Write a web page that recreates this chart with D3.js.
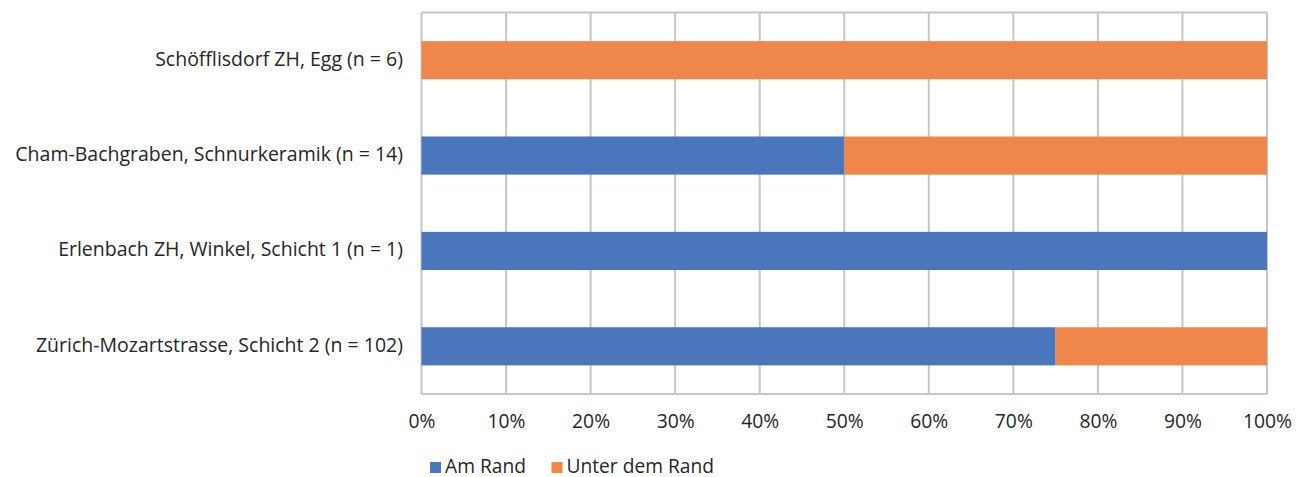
<!DOCTYPE html>
<html><head><meta charset="utf-8">
<script src="https://cdn.jsdelivr.net/npm/d3@7"></script>
<style>body{margin:0;background:#fff;} svg{display:block;} text{font-family:"Open Sans", sans-serif;fill:#262626;}</style>
</head><body><svg id="c" width="1296" height="477"></svg>
<script>
const categories = ["Schöfflisdorf ZH, Egg (n = 6)", "Cham-Bachgraben, Schnurkeramik (n = 14)", "Erlenbach ZH, Winkel, Schicht 1 (n = 1)", "Zürich-Mozartstrasse, Schicht 2 (n = 102)"];
const amRand = [0, 50, 100, 75];
const unterDemRand = [100, 50, 0, 25];
const seriesNames = ["Am Rand", "Unter dem Rand"];
const colors = ["#4a76bc", "#f0874a"];
const tickValues = [0,10,20,30,40,50,60,70,80,90,100];

const svg = d3.select("#c");
const L = 421.5, R = 1267, T = 12.5, B = 394;
const FONT = "'Open Sans', sans-serif";
const x = d3.scaleLinear().domain([0,100]).range([L,R]);
const y = d3.scaleBand().domain(categories).range([T,B]).paddingInner(0.6).paddingOuter(0.3);

// grid
svg.append("g").selectAll("line").data(tickValues).join("line")
  .attr("x1", d=>x(d)).attr("x2", d=>x(d)).attr("y1", T).attr("y2", B)
  .attr("stroke", "#c6c6c6").attr("stroke-width", 2);
svg.append("line").attr("x1", L).attr("x2", R).attr("y1", T).attr("y2", T).attr("stroke", "#c6c6c6").attr("stroke-width", 2);
svg.append("line").attr("x1", L).attr("x2", R).attr("y1", B).attr("y2", B).attr("stroke", "#c6c6c6").attr("stroke-width", 2);

const data = categories.map((c,i)=>({cat:c, vals:[amRand[i], unterDemRand[i]]}));
const stack = data.map(d=>{let acc=0; return d.vals.map((v,k)=>{const s={cat:d.cat,k,x0:acc,x1:acc+v}; acc+=v; return s;});}).flat().filter(s=>s.x1>s.x0);
svg.append("g").selectAll("rect").data(stack).join("rect")
  .attr("x", d=>x(d.x0)).attr("width", d=>x(d.x1)-x(d.x0))
  .attr("y", d=>y(d.cat)).attr("height", y.bandwidth())
  .attr("fill", d=>colors[d.k]);

// y labels
const ya = svg.append("g").attr("transform", `translate(${L},0)`).call(d3.axisLeft(y).tickSize(0).tickPadding(18.5));
ya.select(".domain").remove();
ya.selectAll("text").style("font-family",FONT).style("font-size","19.5px").attr("fill","#262626").attr("dy","0.28em");

// x labels
const xa = svg.append("g").attr("transform", `translate(0,${B})`).call(d3.axisBottom(x).tickValues(tickValues).tickSize(0).tickPadding(20).tickFormat(d=>d+"%"));
xa.select(".domain").remove();
xa.selectAll("text").style("font-family",FONT).style("font-size","19.3px").attr("fill","#262626");

// legend
const lg = svg.append("g");
const lx = [430, 551.5];
seriesNames.forEach((n,i)=>{
  lg.append("rect").attr("x", lx[i]).attr("y", 462).attr("width", 11).attr("height", 11).attr("fill", colors[i]);
  lg.append("text").attr("x", lx[i]+15).attr("y", 472.5).style("font-family",FONT).style("font-size","19.2px").text(n);
});
</script></body></html>
